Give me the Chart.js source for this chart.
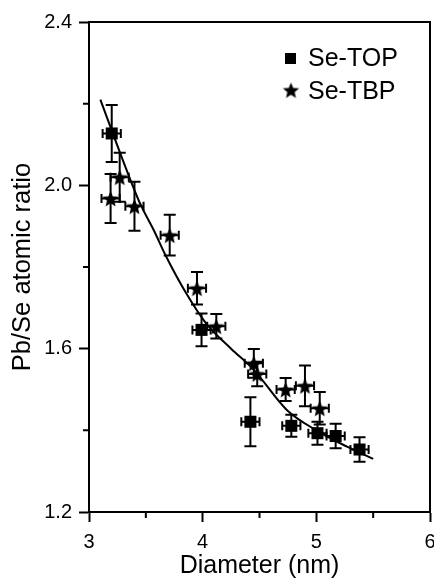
<!DOCTYPE html>
<html>
<head>
<meta charset="utf-8">
<script src="https://cdn.jsdelivr.net/npm/chart.js@4"></script>
<style>
  html, body { margin: 0; padding: 0; background: #fff; overflow: hidden; }
  #wrap { width: 434px; height: 579px; }
</style>
</head>
<body>
<div id="wrap"><canvas id="ratioChart" width="434" height="579"></canvas></div>
<script>
// Se-TOP (squares)
const topX = [3.20, 3.99, 4.42, 4.78, 5.01, 5.17, 5.38];
const topY = [2.127, 1.646, 1.421, 1.411, 1.393, 1.386, 1.353];
const topXErr = [0.08, 0.08, 0.08, 0.08, 0.08, 0.08, 0.08];
const topYErr = [0.07, 0.04, 0.06, 0.027, 0.028, 0.03, 0.03];

// Se-TBP (stars)
const tbpX = [3.19, 3.27, 3.40, 3.71, 3.95, 4.12, 4.45, 4.48, 4.73, 4.90, 5.03];
const tbpY = [1.968, 2.020, 1.949, 1.878, 1.748, 1.655, 1.564, 1.538, 1.500, 1.509, 1.454];
const tbpXErr = [0.08, 0.08, 0.08, 0.08, 0.08, 0.08, 0.08, 0.08, 0.08, 0.08, 0.08];
const tbpYErr = [0.06, 0.06, 0.06, 0.05, 0.04, 0.03, 0.035, 0.03, 0.028, 0.05, 0.04];

// fitted curve
const fitX = [3.10, 3.30, 3.45, 3.57, 3.68, 3.85, 4.03, 4.25, 4.45, 4.74, 5.00, 5.27, 5.50];
const fitY = [2.21, 2.06, 1.955, 1.89, 1.825, 1.738, 1.662, 1.60, 1.548, 1.45, 1.40, 1.36, 1.33];

const xTicks = [3, 4, 5, 6];
const xMinor = [3.5, 4.5, 5.5];
const yTicks = [1.2, 1.6, 2.0, 2.4];
const yMinor = [1.4, 1.8, 2.2];

const sans = "'Liberation Sans', Arial, sans-serif";
Chart.defaults.font.family = sans;
Chart.defaults.color = "#000";

function starImage(r) {
  const c = document.createElement("canvas");
  const s = Math.ceil(r * 2) + 2;
  c.width = s; c.height = s;
  const g = c.getContext("2d");
  g.fillStyle = "#000";
  g.beginPath();
  for (let i = 0; i < 10; i++) {
    const rad = i % 2 === 0 ? r : r * 0.45;
    const a = -Math.PI / 2 + i * Math.PI / 5;
    const px = s / 2 + rad * Math.cos(a);
    const py = s / 2 + 1 + rad * Math.sin(a);
    if (i === 0) g.moveTo(px, py); else g.lineTo(px, py);
  }
  g.closePath();
  g.fill();
  return c;
}
const star = starImage(8.5);

const errorBars = {
  id: "errorBars",
  beforeDatasetsDraw(chart) {
    const ctx = chart.ctx;
    ctx.save();
    ctx.strokeStyle = "#000";
    ctx.lineWidth = 2;
    chart.data.datasets.forEach((ds) => {
      if (!ds.xErr) return;
      const xs = chart.scales.x, ys = chart.scales.y;
      ds.data.forEach((p, i) => {
        const cx = xs.getPixelForValue(p.x), cy = ys.getPixelForValue(p.y);
        const y1 = ys.getPixelForValue(p.y + ds.yErr[i]);
        const y2 = ys.getPixelForValue(p.y - ds.yErr[i]);
        const x1 = xs.getPixelForValue(p.x - ds.xErr[i]);
        const x2 = xs.getPixelForValue(p.x + ds.xErr[i]);
        ctx.beginPath();
        ctx.moveTo(cx, y1); ctx.lineTo(cx, y2);
        ctx.moveTo(cx - 6, y1); ctx.lineTo(cx + 6, y1);
        ctx.moveTo(cx - 6, y2); ctx.lineTo(cx + 6, y2);
        ctx.moveTo(x1, cy); ctx.lineTo(x2, cy);
        ctx.moveTo(x1, cy - 4.5); ctx.lineTo(x1, cy + 4.5);
        ctx.moveTo(x2, cy - 4.5); ctx.lineTo(x2, cy + 4.5);
        ctx.stroke();
      });
    });
    ctx.restore();
  },
  afterDraw(chart) {
    const { ctx, chartArea: a } = chart;
    const xs = chart.scales.x, ys = chart.scales.y;
    ctx.save();
    ctx.strokeStyle = "#000";
    ctx.lineWidth = 2;
    ctx.strokeRect(a.left, a.top, a.right - a.left, a.bottom - a.top);
    // minor ticks
    ctx.beginPath();
    xMinor.forEach((v) => {
      const px = xs.getPixelForValue(v);
      ctx.moveTo(px, a.bottom); ctx.lineTo(px, a.bottom + 6);
    });
    yMinor.forEach((v) => {
      const py = ys.getPixelForValue(v);
      ctx.moveTo(a.left, py); ctx.lineTo(a.left - 6, py);
    });
    ctx.stroke();
    // legend
    ctx.fillStyle = "#000";
    ctx.fillRect(285, 53, 11, 11);
    ctx.drawImage(star, 291 - star.width / 2, 90 - star.height / 2);
    ctx.font = "25px " + sans;
    ctx.textBaseline = "middle";
    ctx.fillText("Se-TOP", 308, 59);
    ctx.fillText("Se-TBP", 308, 92);
    ctx.restore();
  },
};

new Chart(document.getElementById("ratioChart"), {
  type: "scatter",
  data: {
    datasets: [
      {
        label: "Se-TOP",
        data: topX.map((x, i) => ({ x, y: topY[i] })),
        xErr: topXErr,
        yErr: topYErr,
        pointStyle: "rect",
        pointRadius: 8.5,
        backgroundColor: "#000",
        borderColor: "#000",
        borderWidth: 0,
      },
      {
        label: "Se-TBP",
        data: tbpX.map((x, i) => ({ x, y: tbpY[i] })),
        xErr: tbpXErr,
        yErr: tbpYErr,
        pointStyle: star,
        backgroundColor: "#000",
        borderColor: "#000",
      },
      {
        type: "line",
        label: "fit",
        data: fitX.map((x, i) => ({ x, y: fitY[i] })),
        borderColor: "#000",
        borderWidth: 2,
        pointRadius: 0,
        cubicInterpolationMode: "monotone",
        fill: false,
      },
    ],
  },
  plugins: [errorBars],
  options: {
    responsive: false,
    animation: false,
    layout: { autoPadding: false, padding: { top: 22, right: 4, left: 0, bottom: 0 } },
    plugins: { legend: { display: false }, tooltip: { enabled: false } },
    scales: {
      x: {
        type: "linear",
        min: 3,
        max: 6,
        afterFit: (s) => { s.height = 67; s.paddingLeft = 0; s.paddingRight = 0; },
        afterBuildTicks: (s) => { s.ticks = xTicks.map((v) => ({ value: v })); },
        ticks: {
          autoSkip: false,
          maxRotation: 0,
          padding: 8,
          font: { size: 20 },
          callback: (v) => String(v),
        },
        grid: { drawOnChartArea: false, tickLength: 10, tickWidth: 2, tickColor: "#000" },
        border: { color: "#000", width: 2 },
        title: { display: true, text: "Diameter (nm)", font: { size: 25, lineHeight: 1 }, padding: { top: 0, bottom: 0 } },
      },
      y: {
        min: 1.2,
        max: 2.4,
        afterFit: (s) => { s.width = 89; s.paddingTop = 0; s.paddingBottom = 0; },
        afterBuildTicks: (s) => { s.ticks = yTicks.map((v) => ({ value: v })); },
        ticks: {
          autoSkip: false,
          padding: 7,
          font: { size: 20 },
          callback: (v) => v.toFixed(1),
        },
        grid: { drawOnChartArea: false, tickLength: 10, tickWidth: 2, tickColor: "#000" },
        border: { color: "#000", width: 2 },
        title: { display: true, text: "Pb/Se atomic ratio", font: { size: 25.5, lineHeight: 1 }, padding: { top: 10, bottom: 0 } },
      },
    },
  },
});
</script>
</body>
</html>
